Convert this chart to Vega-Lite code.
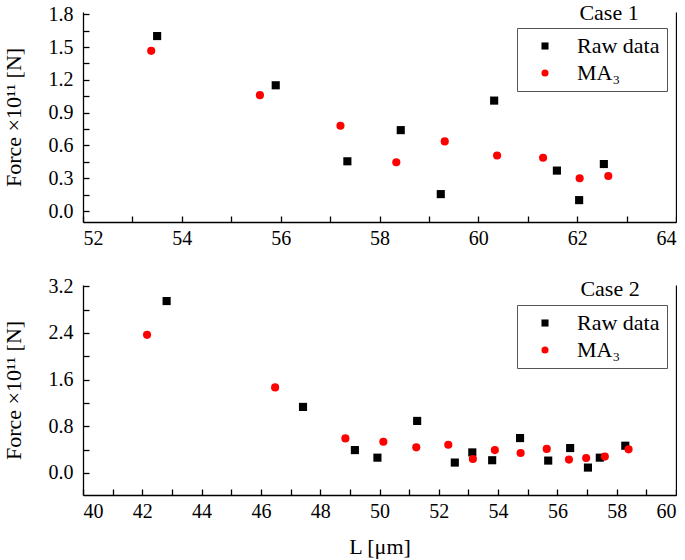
{
  "$schema": "https://vega.github.io/schema/vega-lite/v6.json",
  "padding": {"left": 2, "top": 1, "right": 0, "bottom": 2},
  "config": {
    "font": "Liberation Serif",
    "view": {"stroke": null},
    "legend": {"labelFont": "Liberation Serif", "labelColor": "black"},
    "title": {"font": "Liberation Serif", "fontSize": 22, "fontWeight": "normal", "color": "black"}
  },
  "datasets": {
    "case1": [
      {"L": 53.5, "F": 1.60, "series": "Raw data"},
      {"L": 55.9, "F": 1.15, "series": "Raw data"},
      {"L": 57.35, "F": 0.455, "series": "Raw data"},
      {"L": 58.43, "F": 0.74, "series": "Raw data"},
      {"L": 59.24, "F": 0.155, "series": "Raw data"},
      {"L": 60.32, "F": 1.01, "series": "Raw data"},
      {"L": 61.59, "F": 0.37, "series": "Raw data"},
      {"L": 62.04, "F": 0.10, "series": "Raw data"},
      {"L": 62.54, "F": 0.43, "series": "Raw data"},
      {"L": 53.38, "F": 1.465, "series": "MA₃"},
      {"L": 55.58, "F": 1.06, "series": "MA₃"},
      {"L": 57.21, "F": 0.78, "series": "MA₃"},
      {"L": 58.34, "F": 0.446, "series": "MA₃"},
      {"L": 59.32, "F": 0.637, "series": "MA₃"},
      {"L": 60.38, "F": 0.508, "series": "MA₃"},
      {"L": 61.31, "F": 0.487, "series": "MA₃"},
      {"L": 62.05, "F": 0.30, "series": "MA₃"},
      {"L": 62.63, "F": 0.32, "series": "MA₃"}
    ],
    "case2": [
      {"L": 42.82, "F": 2.945, "series": "Raw data"},
      {"L": 47.42, "F": 1.13, "series": "Raw data"},
      {"L": 49.17, "F": 0.39, "series": "Raw data"},
      {"L": 49.93, "F": 0.26, "series": "Raw data"},
      {"L": 51.27, "F": 0.89, "series": "Raw data"},
      {"L": 52.54, "F": 0.176, "series": "Raw data"},
      {"L": 53.13, "F": 0.35, "series": "Raw data"},
      {"L": 53.8, "F": 0.216, "series": "Raw data"},
      {"L": 54.74, "F": 0.596, "series": "Raw data"},
      {"L": 55.69, "F": 0.21, "series": "Raw data"},
      {"L": 56.43, "F": 0.425, "series": "Raw data"},
      {"L": 57.03, "F": 0.09, "series": "Raw data"},
      {"L": 57.43, "F": 0.26, "series": "Raw data"},
      {"L": 58.29, "F": 0.465, "series": "Raw data"},
      {"L": 42.16, "F": 2.366, "series": "MA₃"},
      {"L": 46.48, "F": 1.464, "series": "MA₃"},
      {"L": 48.85, "F": 0.59, "series": "MA₃"},
      {"L": 50.13, "F": 0.533, "series": "MA₃"},
      {"L": 51.24, "F": 0.437, "series": "MA₃"},
      {"L": 52.32, "F": 0.482, "series": "MA₃"},
      {"L": 53.15, "F": 0.238, "series": "MA₃"},
      {"L": 53.89, "F": 0.39, "series": "MA₃"},
      {"L": 54.76, "F": 0.34, "series": "MA₃"},
      {"L": 55.64, "F": 0.41, "series": "MA₃"},
      {"L": 56.39, "F": 0.227, "series": "MA₃"},
      {"L": 56.97, "F": 0.255, "series": "MA₃"},
      {"L": 57.6, "F": 0.278, "series": "MA₃"},
      {"L": 58.4, "F": 0.403, "series": "MA₃"}
    ]
  },
  "spacing": 63,
  "bounds": "flush",
  "resolve": {
    "scale": {"color": "independent", "shape": "independent"},
    "legend": {"color": "independent", "shape": "independent"}
  },
  "vconcat": [
    {
      "width": 593,
      "height": 210,
      "title": {"text": "Case 1", "anchor": "end", "orient": "top", "dx": -38, "dy": 28, "offset": -9.5, "baseline": "alphabetic"},
      "data": {"name": "case1"},
      "mark": {"type": "point", "filled": true, "opacity": 1, "size": 66},
      "encoding": {
        "x": {
          "field": "L", "type": "quantitative",
          "scale": {"domain": [52, 64], "nice": false, "zero": false},
          "axis": {
            "title": null, "format": "d",
            "grid": true, "gridWidth": 1.3, "gridOpacity": 1,
            "gridColor": {"condition": {"test": "datum.value === 64", "value": "black"}, "value": "rgba(0,0,0,0)"},
            "domainColor": "black", "domainWidth": 1.3, "tickColor": "black", "tickWidth": 1.3,
            "labelFont": "Liberation Serif", "labelFontSize": 20, "labelColor": "black", "labelPadding": 12,
            "labelOverlap": false,
            "values": [52, 53, 54, 55, 56, 57, 58, 59, 60, 61, 62, 63, 64],
            "labelExpr": "datum.value % 2 === 0 ? datum.label : ''",
            "tickSize": -6
          }
        },
        "y": {
          "field": "F", "type": "quantitative",
          "scale": {"domain": [-0.1, 1.82], "nice": false, "zero": false},
          "axis": {
            "title": "Force ×10¹¹ [N]", "format": ".1f", "titlePadding": 23, "grid": false,
            "titleFont": "Liberation Serif", "titleFontSize": 22, "titleFontWeight": "normal", "titleColor": "black",
            "domainColor": "black", "domainWidth": 1.3, "tickColor": "black", "tickWidth": 1.3,
            "labelFont": "Liberation Serif", "labelFontSize": 20, "labelColor": "black", "labelPadding": 16,
            "labelOverlap": false,
            "values": [0, 0.15, 0.3, 0.45, 0.6, 0.75, 0.9, 1.05, 1.2, 1.35, 1.5, 1.65, 1.8],
            "labelExpr": "round(datum.value * 100) % 30 === 0 ? datum.label : ''",
            "tickSize": -6
          }
        },
        "color": {
          "field": "series", "type": "nominal",
          "scale": {"domain": ["Raw data", "MA₃"], "range": ["#000000", "#ff0000"]},
          "legend": {
            "orient": "none", "legendX": 434, "legendY": 16, "title": null,
            "strokeColor": "#555555", "padding": 7, "symbolOffset": 10,
            "labelOffset": 21, "labelFontSize": 22, "symbolSize": 50,
            "rowPadding": 5, "symbolStrokeWidth": 0
          }
        },
        "shape": {
          "field": "series", "type": "nominal",
          "scale": {"domain": ["Raw data", "MA₃"], "range": ["square", "circle"]}
        }
      }
    },
    {
      "width": 593,
      "height": 210,
      "title": {"text": "Case 2", "anchor": "end", "orient": "top", "dx": -37, "dy": 35, "offset": -6.5, "baseline": "alphabetic"},
      "data": {"name": "case2"},
      "mark": {"type": "point", "filled": true, "opacity": 1, "size": 66},
      "encoding": {
        "x": {
          "field": "L", "type": "quantitative",
          "scale": {"domain": [40, 60], "nice": false, "zero": false},
          "axis": {
            "title": "L [μm]", "format": "d", "titlePadding": 15,
            "titleFont": "Liberation Serif", "titleFontSize": 22, "titleFontWeight": "normal", "titleColor": "black",
            "grid": true, "gridWidth": 1.3, "gridOpacity": 1,
            "gridColor": {"condition": {"test": "datum.value === 60", "value": "black"}, "value": "rgba(0,0,0,0)"},
            "domainColor": "black", "domainWidth": 1.3, "tickColor": "black", "tickWidth": 1.3,
            "labelFont": "Liberation Serif", "labelFontSize": 20, "labelColor": "black", "labelPadding": 12,
            "labelOverlap": false,
            "values": [40, 41, 42, 43, 44, 45, 46, 47, 48, 49, 50, 51, 52, 53, 54, 55, 56, 57, 58, 59, 60],
            "labelExpr": "datum.value % 2 === 0 ? datum.label : ''",
            "tickSize": -6
          }
        },
        "y": {
          "field": "F", "type": "quantitative",
          "scale": {"domain": [-0.38, 3.22], "nice": false, "zero": false},
          "axis": {
            "title": "Force ×10¹¹ [N]", "format": ".1f", "titlePadding": 23, "grid": false,
            "titleFont": "Liberation Serif", "titleFontSize": 22, "titleFontWeight": "normal", "titleColor": "black",
            "domainColor": "black", "domainWidth": 1.3, "tickColor": "black", "tickWidth": 1.3,
            "labelFont": "Liberation Serif", "labelFontSize": 20, "labelColor": "black", "labelPadding": 16,
            "labelOverlap": false,
            "values": [0, 0.4, 0.8, 1.2, 1.6, 2.0, 2.4, 2.8, 3.2],
            "labelExpr": "round(datum.value * 10) % 8 === 0 ? datum.label : ''",
            "tickSize": -6
          }
        },
        "color": {
          "field": "series", "type": "nominal",
          "scale": {"domain": ["Raw data", "MA₃"], "range": ["#000000", "#ff0000"]},
          "legend": {
            "orient": "none", "legendX": 434, "legendY": 20, "title": null,
            "strokeColor": "#555555", "padding": 7, "symbolOffset": 10,
            "labelOffset": 21, "labelFontSize": 22, "symbolSize": 50,
            "rowPadding": 5, "symbolStrokeWidth": 0
          }
        },
        "shape": {
          "field": "series", "type": "nominal",
          "scale": {"domain": ["Raw data", "MA₃"], "range": ["square", "circle"]}
        }
      }
    }
  ]
}
